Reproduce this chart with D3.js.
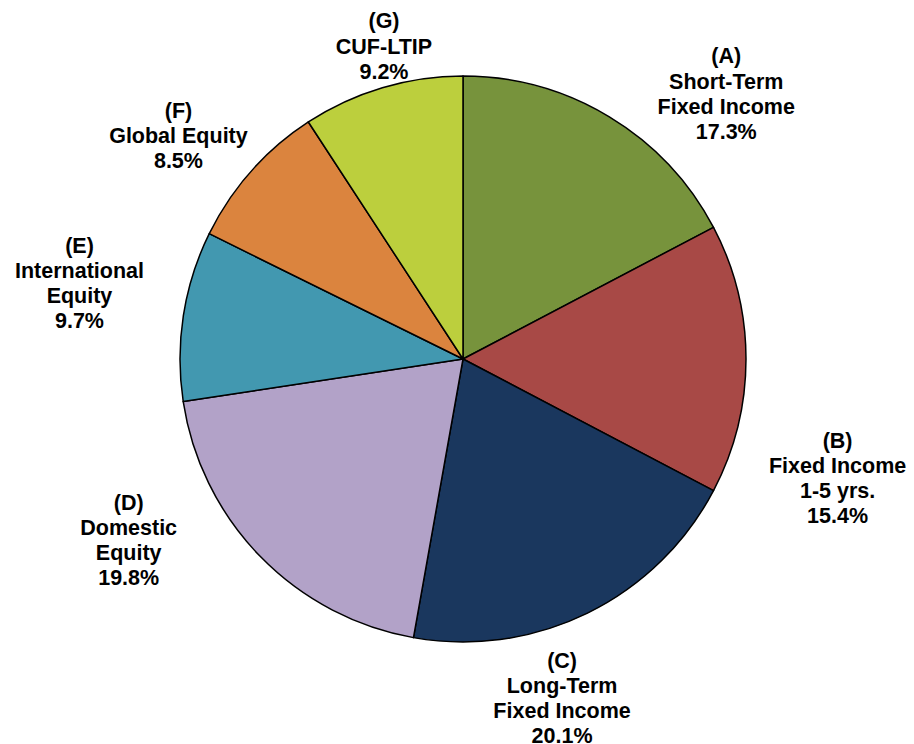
<!DOCTYPE html>
<html>
<head>
<meta charset="utf-8">
<script src="https://cdn.jsdelivr.net/npm/d3@7"></script>
<style>
  html, body { margin: 0; padding: 0; background: #fff; }
  svg { display: block; }
</style>
</head>
<body>
<svg id="chart" width="914" height="744"></svg>
<script>
// Data
const codes = ["(A)", "(B)", "(C)", "(D)", "(E)", "(F)", "(G)"];
const names = [
  ["Short-Term", "Fixed Income"],
  ["Fixed Income", "1-5 yrs."],
  ["Long-Term", "Fixed Income"],
  ["Domestic", "Equity"],
  ["International", "Equity"],
  ["Global Equity"],
  ["CUF-LTIP"]
];
const values = [17.3, 15.4, 20.1, 19.8, 9.7, 8.5, 9.2];
const colors = ["#77933C", "#A84946", "#1A375E", "#B2A2C8", "#4298B0", "#DB843E", "#BCCF3D"];

// Label layout (angle nudge in degrees from slice mid-angle, distance from centre)
const labelNudge = [13.6, 17.6, 9.8, 15.9, 2.4, -3.4, 2.4];
const labelDist  = [374, 393, 353, 380, 391, 362, 323];

const svg = d3.select("#chart");
const cx = 463, cy = 359, r = 283;
const g = svg.append("g").attr("transform", `translate(${cx},${cy})`);

const pie = d3.pie().sort(null).value(d => d)(values);
const arc = d3.arc().innerRadius(0).outerRadius(r);

g.selectAll("path.slice")
  .data(pie)
  .join("path")
  .attr("class", "slice")
  .attr("d", arc)
  .attr("fill", (d, i) => colors[i])
  .attr("stroke", "#000")
  .attr("stroke-width", 1.5)
  .attr("stroke-linejoin", "round");

const fontSize = 21.5, lineH = 25.2;
pie.forEach((d, i) => {
  const mid = (d.startAngle + d.endAngle) / 2 + labelNudge[i] * Math.PI / 180;
  const lx = Math.sin(mid) * labelDist[i];
  const ly = -Math.cos(mid) * labelDist[i];
  const lines = [codes[i], ...names[i], d3.format(".1f")(values[i]) + "%"];
  const n = lines.length;
  const firstBaseline = ly - (n - 1) * lineH / 2 + fontSize * 0.36;
  const t = g.append("text")
    .attr("text-anchor", "middle")
    .attr("font-family", "Liberation Sans, Arial, sans-serif")
    .attr("font-weight", "bold")
    .attr("font-size", fontSize)
    .attr("fill", "#000");
  lines.forEach((s, k) => {
    t.append("tspan")
      .attr("x", lx)
      .attr("y", firstBaseline + k * lineH)
      .text(s);
  });
});
</script>
</body>
</html>
